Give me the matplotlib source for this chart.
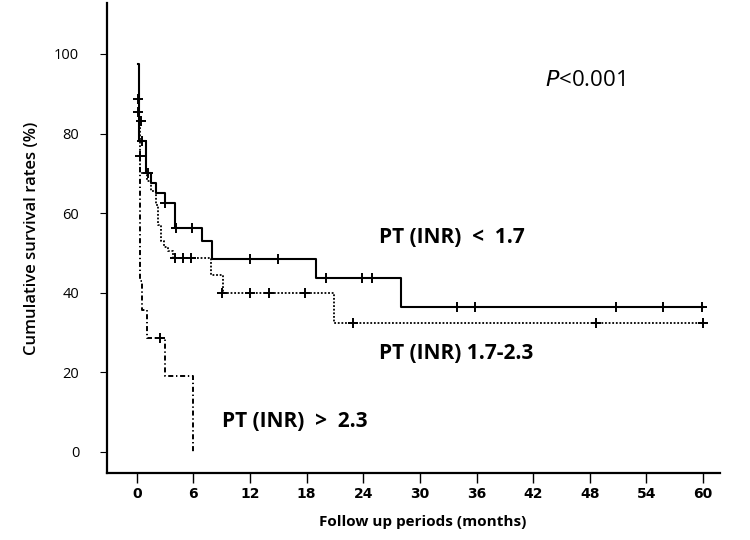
import matplotlib
matplotlib.use('Agg')
from matplotlib import pyplot as plt

# survival curves (months, %)
low_t = [0.15, 0.2, 1.0, 1.5, 2.0, 3.0, 4.0, 6.9, 8.0, 19.0, 28.0, 60.0]
low_s = [97.5, 78.2, 70.2, 67.5, 65.0, 62.5, 56.2, 52.9, 48.5, 43.7, 36.3, 36.3]
low_cens_t = [0.15, 0.15, 0.5, 0.55, 1.2, 3.0, 4.2, 5.9, 12.0, 15.0, 20.0, 23.9, 24.9, 33.9, 35.8, 50.8, 55.8, 59.9]
low_cens_s = [88.6, 85.5, 83.2, 78.2, 70.2, 62.5, 56.2, 56.2, 48.5, 48.5, 43.7, 43.7, 43.7, 36.3, 36.3, 36.3, 36.3, 36.3]

mid_t = [0.2, 0.35, 1.1, 1.5, 2.0, 2.3, 2.6, 2.9, 3.3, 3.8, 7.9, 9.1, 20.9, 60.0]
mid_s = [83.2, 70.0, 68.0, 65.5, 62.0, 57.0, 53.0, 51.5, 50.5, 48.7, 44.5, 39.9, 32.4, 32.4]
mid_cens_t = [0.35, 4.0, 4.9, 5.8, 9.0, 12.0, 14.0, 17.8, 22.9, 48.7, 60.0]
mid_cens_s = [74.4, 48.7, 48.7, 48.7, 39.9, 39.9, 39.9, 39.9, 32.4, 32.4, 32.4]

high_t = [0.25, 0.35, 0.6, 1.05, 3.0, 6.0]
high_s = [71.4, 42.9, 35.7, 28.6, 19.0, 0.0]
high_cens_t = [2.47]
high_cens_s = [28.6]

xticks = [0, 6, 12, 18, 24, 30, 36, 42, 48, 54, 60]
yticks = [0, 20, 40, 60, 80, 100]

fnt = 'Open Sans'

fig = plt.figure(figsize=(7.5, 5.4), dpi=100)
ax = fig.add_axes([0.1427, 0.1241, 0.8173, 0.8703])

ax.plot(low_t, low_s, drawstyle='steps-post', color='black', lw=1.5)
ax.plot(mid_t, mid_s, drawstyle='steps-post', color='black', lw=1.3, linestyle=(0, (1, 1)))
ax.plot(high_t, high_s, drawstyle='steps-post', color='black', lw=1.4, linestyle=(0, (2.6, 1.4, 0.7, 1.4)))

ax.plot(low_cens_t, low_cens_s, '+', color='black', ms=7, mew=1.4)
ax.plot(mid_cens_t, mid_cens_s, '+', color='black', ms=7, mew=1.4)
ax.plot(high_cens_t, high_cens_s, '+', color='black', ms=7, mew=1.4)

ax.set_xlim(-3.15, 61.8)
ax.set_ylim(-5.3, 112.8)

ax.spines['top'].set_visible(False)
ax.spines['right'].set_visible(False)
ax.spines['left'].set_linewidth(1.6)
ax.spines['bottom'].set_linewidth(1.6)

ax.set_xticks(xticks)
ax.set_xticklabels([str(v) for v in xticks], fontsize=10, fontweight='bold', family='Liberation Sans Narrow')
ax.set_yticks(yticks)
ax.set_yticklabels([str(v) for v in yticks], fontsize=10.5, family=fnt)
ax.tick_params(axis='x', length=7, width=1.0, pad=3)
ax.tick_params(axis='y', length=5, width=0.8, pad=15)

ax.set_xlabel('Follow up periods (months)', fontsize=11, fontweight='bold', family=fnt, labelpad=10, x=0.515)
ax.set_ylabel('Cumulative survival rates (%)', fontsize=12, fontweight='semibold', family=fnt, labelpad=10)

ax.text(43.25, 93.3, '$\\mathit{P}$<0.001', fontsize=16, family=fnt, va='center', ha='left')
ax.text(25.7, 53.9, 'PT (INR)  <  1.7', fontsize=15, family=fnt, fontweight='bold', va='center', ha='left')
ax.text(25.7, 24.8, 'PT (INR) 1.7-2.3', fontsize=15, family=fnt, fontweight='bold', va='center', ha='left')
ax.text(9.0, 7.6, 'PT (INR)  >  2.3', fontsize=15, family=fnt, fontweight='bold', va='center', ha='left')

plt.savefig('out.png', dpi=100)
